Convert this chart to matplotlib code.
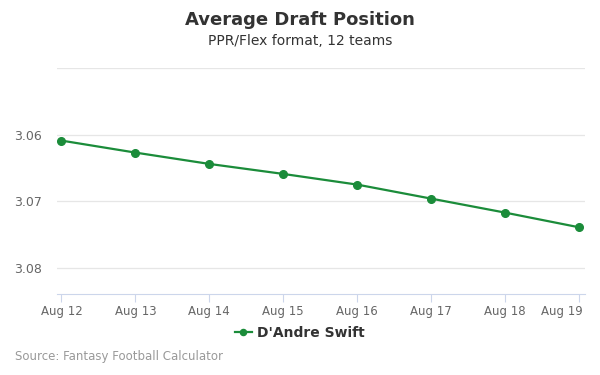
import matplotlib
matplotlib.use("Agg")
import matplotlib.pyplot as plt
import matplotlib.transforms as mtransforms

dates = ["Aug 12", "Aug 13", "Aug 14", "Aug 15", "Aug 16", "Aug 17", "Aug 18", "Aug 19"]
adp = [3.0609, 3.0627, 3.0644, 3.0659, 3.0675, 3.0696, 3.0717, 3.0739]
yticks = [3.05, 3.06, 3.07, 3.08]
ytick_labels = ["", "3.06", "3.07", "3.08"]
series_name = "D'Andre Swift"

green = "#1b8c3a"
fig = plt.figure(figsize=(6, 3.75), dpi=100)
ax = fig.add_axes([0.095, 0.216, 0.88, 0.603])
x = list(range(len(dates)))
ax.plot(x, adp, color=green, lw=1.6, marker="o", ms=5.5, label=series_name, zorder=3)

ax.set_xlim(-0.06, 7.08)
ax.set_ylim(3.0839, 3.05)
ax.set_yticks(yticks)
ax.set_yticklabels(ytick_labels)
ax.set_xticks(x)
ax.set_xticklabels(dates)
ax.grid(axis="y", color="#e6e6e6", lw=0.9)
ax.set_axisbelow(True)
for s in ["top", "right", "left"]:
    ax.spines[s].set_visible(False)
ax.spines["bottom"].set_color("#ccd6eb")
ax.tick_params(axis="y", length=0, pad=11, labelsize=9, labelcolor="#666666")
ax.tick_params(axis="x", length=6, color="#ccd6eb", pad=2, labelsize=8.5, labelcolor="#666666")

last = ax.get_xticklabels()[-1]
last.set_horizontalalignment("right")
last.set_transform(last.get_transform() + mtransforms.ScaledTranslation(4/100, 0, fig.dpi_scale_trans))

fig.text(0.5, 1 - 20/375, "Average Draft Position", ha="center", va="center",
         fontsize=13, fontweight="bold", color="#333333")
fig.text(0.5, 1 - 41/375, "PPR/Flex format, 12 teams", ha="center", va="center",
         fontsize=10, color="#333333")
leg = fig.legend(loc="center", bbox_to_anchor=(0.5, 1 - 333/375), frameon=False,
                 prop={"weight": "bold", "size": 10}, handlelength=1.2, handletextpad=0.4,
                 markerscale=0.8)
for t in leg.get_texts():
    t.set_color("#333333")
fig.text(15/600, 1 - 356.5/375, "Source: Fantasy Football Calculator", ha="left", va="center",
         fontsize=8.5, color="#999999")

fig.savefig("out.png", dpi=100)
